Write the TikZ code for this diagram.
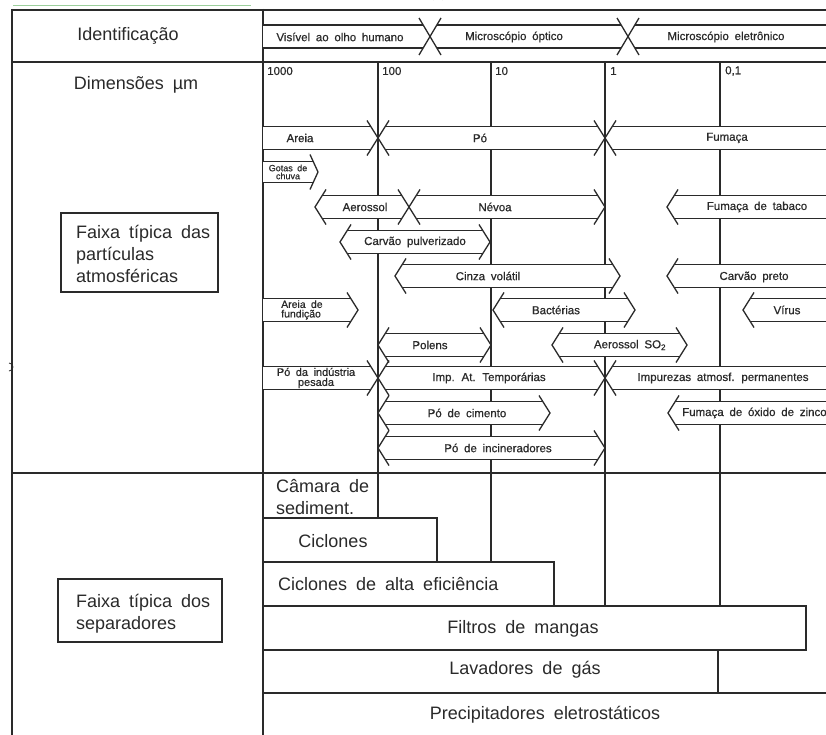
\documentclass[tikz,border=0pt]{standalone}
\usepackage{fontspec}
\setmainfont{Liberation Sans}[WordSpace=1.8]
\newfontfamily\cadfont{Liberation Sans}[WordSpace=1.8, FakeBold=0.6]
\definecolor{ink}{HTML}{2A2A2A}
\definecolor{artgreen}{HTML}{9CCF9C}
\newcommand{\bandhb}{11.5}
\newcommand{\bandbh}{17.5}
\newcommand{\bandbw}{11}
% \band{xL}{xR}{ymid}{left: t tip / f flat}{right: t tip / f flat}
\newcommand{\band}[5]{%
  \pgfmathsetmacro\bdCo{\bandbw*\bandhb/\bandbh}%
  \if#4t\pgfmathsetmacro\bdLa{#1+\bdCo}\else\def\bdLa{#1}\fi
  \if#5t\pgfmathsetmacro\bdRa{#2-\bdCo}\else\def\bdRa{#2}\fi
  \fill[white] (\bdLa,#3-\bandhb) -- (\bdRa,#3-\bandhb) -- (#2,#3) -- (\bdRa,#3+\bandhb) -- (\bdLa,#3+\bandhb) -- (#1,#3) -- cycle;
  \draw[bl] (\bdLa,#3-\bandhb) -- (\bdRa,#3-\bandhb) (\bdLa,#3+\bandhb) -- (\bdRa,#3+\bandhb);
  \if#4t\draw[bl] (#1+\bandbw,#3-\bandbh) -- (#1,#3) -- (#1+\bandbw,#3+\bandbh);\fi
  \if#5t\draw[bl] (#2-\bandbw,#3-\bandbh) -- (#2,#3) -- (#2-\bandbw,#3+\bandbh);\fi
}
\begin{document}
\begin{tikzpicture}[x=1pt,y=-1pt,
  tbl/.style={line width=2.4pt, draw=ink},
  gridl/.style={line width=2.9pt, draw=ink},
  bl/.style={line width=1.3pt, draw=ink, line join=miter},
  boxl/.style={line width=1.4pt, draw=ink},
  small/.style={font=\cadfont\fontsize{11.5}{11.5}\selectfont, inner sep=0pt, text=ink},
  tiny/.style={inner sep=0pt, text=ink, align=left},
  big/.style={font=\fontsize{18}{22}\selectfont, inner sep=0pt, text=ink},
  lbox/.style={draw=ink, line width=1.4pt, inner sep=0pt}]
\useasboundingbox (0,0) rectangle (826,735);
\fill[white] (0,0) rectangle (826,735);
\begin{scope}
\clip (0,0) rectangle (826,735);
% artefacts
\draw[artgreen, line width=1pt] (13,5.5) -- (251,5.5);
\draw[ink, line width=0.8pt] (433,0) arc[start angle=180, end angle=360, radius=5];
\draw[ink, line width=0.8pt] (9,371) arc[start angle=90, end angle=-90, radius=4];
% table frame
\draw[tbl] (12,10) -- (826,10);
\draw[tbl] (12,62) -- (826,62);
\draw[tbl] (12,473) -- (826,473);
\draw[tbl] (12,9) -- (12,735);
\draw[gridl] (263,9) -- (263,735);
% grid lines (middle section and upper part of bottom section)
\draw[gridl] (378,62) -- (378,518);
\draw[gridl] (491,62) -- (491,562);
\draw[gridl] (605,62) -- (605,606);
\draw[gridl] (720,62) -- (720,606);
% separator boxes
\draw[boxl] (263,518) -- (437,518) -- (437,562);
\draw[boxl] (263,562) -- (554,562) -- (554,606);
\draw[boxl] (263,606) -- (806,606) -- (806,650) -- (263,650);
\draw[boxl] (263,693) -- (826,693);
\draw[boxl] (718,650) -- (718,693);
% identification row
\renewcommand{\bandhb}{11.5}\renewcommand{\bandbh}{18.5}\renewcommand{\bandbw}{11}
\band{263}{430}{36.5}{f}{t}
\band{430}{628}{36.5}{t}{t}
\band{628}{834}{36.5}{t}{f}
% particle bands
\renewcommand{\bandhb}{11.5}\renewcommand{\bandbh}{17.5}\renewcommand{\bandbw}{11}
\band{263}{378}{138}{f}{t}
\band{378}{605}{138}{t}{t}
\band{605}{834}{138}{t}{f}
\band{315}{409}{207}{t}{t}
\band{409}{605}{207}{t}{t}
\band{667}{834}{207}{t}{f}
\band{340}{490}{242}{t}{t}
\band{395}{620}{276}{t}{t}
\band{667}{834}{276}{t}{f}
\band{263}{358}{310}{f}{t}
\band{493}{635}{310}{t}{t}
\band{743}{834}{310}{t}{f}
\band{378}{491}{345}{t}{t}
\band{552}{687}{345}{t}{t}
\band{263}{378}{378}{f}{t}
\band{378}{605}{378}{t}{t}
\band{605}{834}{378}{t}{f}
\band{378}{550}{413}{t}{t}
\band{668}{834}{413}{t}{f}
\band{378}{605}{448}{t}{t}
\renewcommand{\bandhb}{10.5}\renewcommand{\bandbh}{17.5}\renewcommand{\bandbw}{8}
\band{263}{318}{172}{f}{t}
% left column labels
\node[big] (ident) at (128,36) {Identificação};
\node[big] (dim) at (136,85) {Dimensões µm};
\node[lbox, minimum width=157pt, minimum height=79pt] (boxA) at (139.5,252.5) {};
\node[big, anchor=west, align=left] (txtA) at (76,254) {Faixa típica das\\partículas\\atmosféricas};
\node[lbox, minimum width=164pt, minimum height=63pt] (boxB) at (140,610.5) {};
\node[big, anchor=west, align=left] (txtB) at (76,614) {Faixa típica dos\\separadores};
% identification labels
\node[small] (vis) at (340,37) {Visível ao olho humano};
\node[small] (mop) at (514,37) {Microscópio óptico};
\node[small] (mel) at (726,37) {Microscópio eletrônico};
% scale numbers
\node[small, anchor=west] (n1000) at (267,71) {1000};
\node[small, anchor=west] (n100) at (382,71) {100};
\node[small, anchor=west] (n10) at (495,71) {10};
\node[small, anchor=west] (n1) at (610,71) {1};
\node[small, anchor=west] (n01) at (725,71) {0,1};
% band labels
\node[small] (areia) at (300,138) {Areia};
\node[small] (po) at (480,138) {Pó};
\node[small] (fum) at (727,138) {Fumaça};
\node[tiny, font=\cadfont\fontsize{9}{8}\selectfont, align=center] (gotas) at (288,172) {Gotas de\\chuva};
\node[small] (aer) at (365,207) {Aerossol};
\node[small] (nev) at (495,207) {Névoa};
\node[small] (ftab) at (757,207) {Fumaça de tabaco};
\node[small] (cpulv) at (415,242) {Carvão pulverizado};
\node[small] (cinza) at (488,276) {Cinza volátil};
\node[small] (cpreto) at (754,277) {Carvão preto};
\node[tiny, font=\cadfont\fontsize{10.5}{9.5}\selectfont, anchor=west] (afund) at (281,310) {Areia de\\fundição};
\node[small] (bact) at (556,310) {Bactérias};
\node[small] (virus) at (787,310) {Vírus};
\node[small] (polens) at (430,345) {Polens};
\node[small] (so2) at (630,345) {Aerossol SO\textsubscript{2}};
\node[tiny, font=\cadfont\fontsize{11}{10}\selectfont, align=center] (pind) at (316,378) {Pó da indústria\\pesada};
\node[small] (imptemp) at (489,378) {Imp. At. Temporárias};
\node[small] (impperm) at (723,378) {Impurezas atmosf. permanentes};
\node[small] (pcim) at (467,413) {Pó de cimento};
\node[small, anchor=west] (fzinco) at (682,413) {Fumaça de óxido de zinco};
\node[small] (pinc) at (498,448) {Pó de incineradores};
% separator labels
\node[big, anchor=west, align=left] (camara) at (276,497) {Câmara de\\sediment.};
\node[big] (cicl) at (333,541) {Ciclones};
\node[big, anchor=west] (ciclae) at (278,584) {Ciclones de alta eficiência};
\node[big] (filtros) at (523,629) {Filtros de mangas};
\node[big] (lavad) at (525,670) {Lavadores de gás};
\node[big] (precip) at (545,715) {Precipitadores eletrostáticos};
\end{scope}
\end{tikzpicture}
\end{document}
